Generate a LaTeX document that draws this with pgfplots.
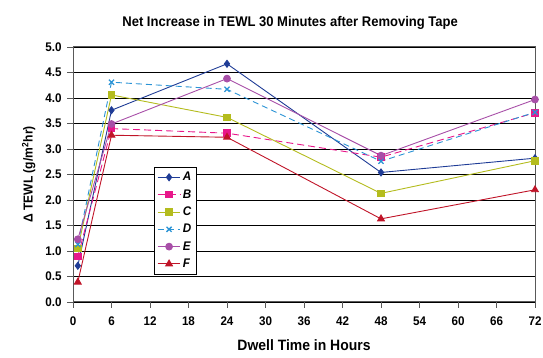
\documentclass[border=0pt]{standalone}
\usepackage{pgfplots}
\pgfplotsset{compat=1.18}
\usepackage{fontspec}
\setmainfont[FakeStretch=0.93]{Liberation Sans}
\definecolor{cA}{HTML}{1F3C96}
\definecolor{cB}{HTML}{E8178A}
\definecolor{cC}{HTML}{B4BC1E}
\definecolor{cD}{HTML}{2A93D5}
\definecolor{cE}{HTML}{A84FA8}
\definecolor{cF}{HTML}{C01428}
\begin{document}
\begin{tikzpicture}
\useasboundingbox (0,0) rectangle (543pt,358pt);
\begin{axis}[
  at={(73pt,56pt)}, anchor=origin,
  scale only axis, width=462pt, height=255pt,
  xmin=0, xmax=72, ymin=0, ymax=5,
  xtick={0,6,...,72}, ytick={0,0.5,...,5},
  /pgf/number format/assume math mode=true,
  ticklabel style={font=\fontsize{12.5}{13}\selectfont\bfseries},
  xticklabel style={yshift=-5pt},
  yticklabel style={xshift=-2pt, /pgf/number format/.cd,fixed,fixed zerofill,precision=1},
  tick align=outside, tick style={gray!70!black, line width=0.8pt},
  major tick length=6pt,
  axis line style={gray!70!black, line width=1pt},
  ymajorgrids, grid style={black, line width=0.6pt},
  xtick pos=bottom, ytick pos=left,
  title={\fontsize{14}{15}\selectfont\bfseries Net Increase in TEWL 30 Minutes after Removing Tape},
  title style={at={(0.47,1)}, yshift=8pt},
  xlabel={\fontsize{15}{16}\selectfont\bfseries Dwell Time in Hours},
  ylabel={\fontsize{13}{14}\selectfont\bfseries Δ TEWL (g/m\textsuperscript{2}hr)},
  xlabel style={yshift=-7pt},
  ylabel style={yshift=3pt},
  legend cell align=left,
  legend style={at={(axis cs:12.6,2.65)}, anchor=north west, draw=black, line width=0.8pt,
    font=\fontsize{12.5}{13}\selectfont\bfseries\itshape, row sep=3.2pt, inner sep=3pt},
  legend image code/.code={\draw[#1] (0cm,0cm) -- (0.8cm,0cm); \draw[#1,solid] plot coordinates {(0.4cm,0cm)};},
  every axis plot/.append style={line width=0.9pt},
]
\addplot[cA, mark=diamond*, mark size=3.5pt] coordinates {(0.75,0.71) (6,3.76) (24,4.67) (48,2.54) (72,2.82)};
\addlegendentry{A}
\addplot[cB, dash pattern=on 7pt off 4pt, mark=square*, mark size=3.3pt, mark options={solid}] coordinates {(0.75,0.89) (6,3.40) (24,3.31) (48,2.84) (72,3.71)};
\addlegendentry{B}
\addplot[cC, mark=square*, mark size=3.3pt] coordinates {(0.75,1.05) (6,4.06) (24,3.62) (48,2.13) (72,2.77)};
\addlegendentry{C}
\addplot[cD, dash pattern=on 6pt off 4pt, mark=x, mark size=3.6pt, mark options={solid, line width=1.3pt}] coordinates {(0.75,1.13) (6,4.31) (24,4.17) (48,2.76) (72,3.72)};
\addlegendentry{D}
\addplot[cE, mark=*, mark size=3.4pt] coordinates {(0.75,1.23) (6,3.49) (24,4.38) (48,2.87) (72,3.97)};
\addlegendentry{E}
\addplot[cF, mark=triangle*, mark size=3.9pt] coordinates {(0.75,0.39) (6,3.27) (24,3.23) (48,1.63) (72,2.20)};
\addlegendentry{F}
\end{axis}
\end{tikzpicture}
\end{document}
